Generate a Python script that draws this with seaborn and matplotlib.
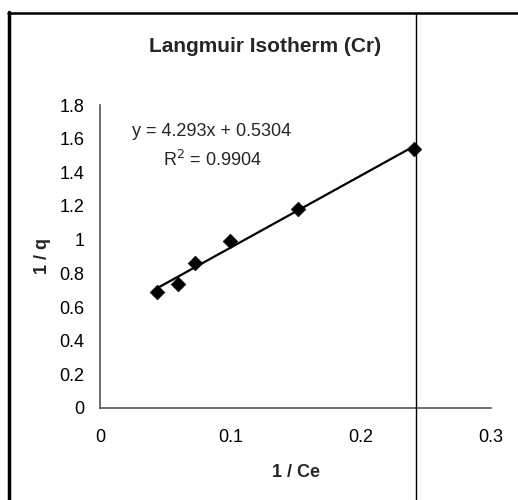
import matplotlib
matplotlib.use("Agg")
import matplotlib.pyplot as plt
import seaborn as sns
import numpy as np
import pandas as pd
from matplotlib.lines import Line2D

# Data
inv_ce = [0.0436, 0.0595, 0.073, 0.0995, 0.152, 0.241]
inv_q = [0.692, 0.738, 0.86, 0.994, 1.185, 1.537]
x_ticks = [0, 0.1, 0.2, 0.3]
x_tick_labels = ["0", "0.1", "0.2", "0.3"]
y_ticks = [0, 0.2, 0.4, 0.6, 0.8, 1.0, 1.2, 1.4, 1.6, 1.8]
y_tick_labels = ["0", "0.2", "0.4", "0.6", "0.8", "1", "1.2", "1.4", "1.6", "1.8"]
title = "Langmuir Isotherm (Cr)"
eq_text = "y = 4.293x + 0.5304"
r2_text = "R$^2$ = 0.9904"

sns.set_theme(style="white")
plt.rcParams["font.family"] = ["Liberation Sans", "DejaVu Sans"]

df = pd.DataFrame({"inv_ce": inv_ce, "inv_q": inv_q})

fig = plt.figure(figsize=(5.18, 5.0), dpi=100)
W, H = 518, 500
ax = fig.add_axes([100 / W, 1 - 408 / H, (491 - 100) / W, (408 - 105) / H])

sns.regplot(data=df, x="inv_ce", y="inv_q", ax=ax, ci=None, marker="D",
            color="black",
            scatter_kws={"s": 55, "edgecolor": "black", "linewidths": 0.5, "alpha": 1.0},
            line_kws={"linewidth": 1.6, "color": "black"})

ax.set_xlim(0, 0.3)
ax.set_ylim(0, 1.8)
ax.set_xticks(x_ticks)
ax.set_xticklabels(x_tick_labels)
ax.set_yticks(y_ticks)
ax.set_yticklabels(y_tick_labels)
ax.tick_params(axis="both", which="both", direction="out", length=5, width=1,
               color="#555555", labelsize=13, labelcolor="black", pad=6)
ax.tick_params(axis="x", pad=10)
for s in ["top", "right"]:
    ax.spines[s].set_visible(False)
for s in ["left", "bottom"]:
    ax.spines[s].set_color("#555555")
    ax.spines[s].set_linewidth(1.2)
ax.set_xlabel("1 / Ce", fontsize=13, fontweight="bold", labelpad=13)
ax.set_ylabel("1 / q", fontsize=13, fontweight="bold", labelpad=6)
ax.patch.set_alpha(0)

fig.text(265 / W, 1 - 47 / H, title, fontsize=15, fontweight="bold",
         ha="center", va="center")
fig.text(212 / W, 1 - 132 / H, eq_text, fontsize=13, ha="center", va="center")
fig.text(212 / W, 1 - 160 / H, r2_text, fontsize=13, ha="center", va="center")

# Frame lines of the surrounding document
fig.add_artist(Line2D([9 / W, 9 / W], [0, 1 - 12 / H], transform=fig.transFigure,
                      color="black", linewidth=2.5))
fig.add_artist(Line2D([8 / W, 1], [1 - 13 / H, 1 - 13 / H], transform=fig.transFigure,
                      color="black", linewidth=1.8))
fig.add_artist(Line2D([416 / W, 416 / W], [0, 1 - 13 / H], transform=fig.transFigure,
                      color="black", linewidth=1.0))

fig.savefig("out.png", dpi=100, facecolor="white")
